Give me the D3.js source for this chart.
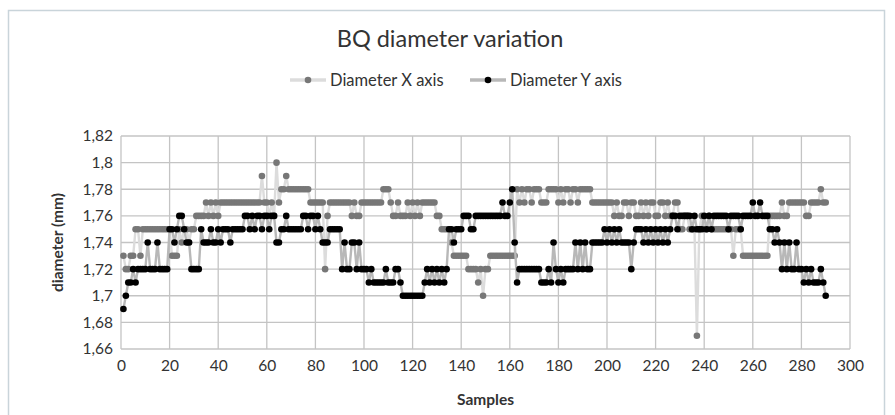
<!DOCTYPE html>
<html>
<head>
<meta charset="utf-8">
<script src="https://cdn.jsdelivr.net/npm/d3@7"></script>
<style>
  body { margin: 0; background: #fff; }
  svg { display: block; }
</style>
</head>
<body>
<div id="chart"></div>
<script>
// samples 1..290
const diameterX = [
  1.73,1.72,1.72,1.73,1.73,1.75,1.75,1.73,1.75,1.75,
  1.75,1.75,1.75,1.75,1.75,1.75,1.75,1.75,1.75,1.75,
  1.73,1.73,1.73,1.75,1.74,1.75,1.75,1.74,1.75,1.75,
  1.76,1.76,1.76,1.76,1.77,1.76,1.77,1.76,1.77,1.76,
  1.77,1.77,1.77,1.77,1.77,1.77,1.77,1.77,1.77,1.77,
  1.77,1.77,1.77,1.77,1.77,1.77,1.77,1.79,1.77,1.77,
  1.76,1.77,1.76,1.80,1.77,1.78,1.78,1.79,1.78,1.78,
  1.78,1.78,1.78,1.78,1.78,1.78,1.78,1.77,1.77,1.77,
  1.77,1.77,1.77,1.72,1.76,1.77,1.77,1.77,1.77,1.77,
  1.77,1.77,1.77,1.77,1.76,1.77,1.76,1.76,1.77,1.77,
  1.77,1.77,1.77,1.77,1.77,1.77,1.77,1.78,1.78,1.78,
  1.77,1.76,1.76,1.77,1.76,1.76,1.76,1.77,1.76,1.77,
  1.76,1.77,1.76,1.77,1.77,1.77,1.77,1.77,1.77,1.76,
  1.76,1.75,1.75,1.75,1.75,1.74,1.73,1.73,1.73,1.73,
  1.73,1.73,1.72,1.72,1.72,1.72,1.71,1.72,1.70,1.72,
  1.72,1.73,1.73,1.73,1.73,1.73,1.73,1.73,1.73,1.73,
  1.73,1.73,1.78,1.77,1.78,1.77,1.78,1.78,1.77,1.78,
  1.78,1.78,1.77,1.77,1.77,1.78,1.78,1.78,1.78,1.77,
  1.78,1.77,1.78,1.78,1.77,1.78,1.78,1.77,1.78,1.78,
  1.78,1.78,1.78,1.77,1.77,1.77,1.77,1.77,1.77,1.77,
  1.77,1.77,1.76,1.77,1.76,1.76,1.77,1.77,1.76,1.77,
  1.77,1.76,1.76,1.77,1.76,1.77,1.76,1.77,1.77,1.76,
  1.76,1.77,1.77,1.76,1.77,1.76,1.76,1.77,1.77,1.75,
  1.75,1.76,1.76,1.75,1.75,1.75,1.67,1.75,1.76,1.75,
  1.75,1.76,1.75,1.75,1.75,1.75,1.75,1.75,1.75,1.75,
  1.75,1.73,1.75,1.75,1.75,1.73,1.73,1.73,1.73,1.73,
  1.73,1.73,1.73,1.73,1.73,1.73,1.76,1.76,1.76,1.76,
  1.76,1.77,1.76,1.76,1.77,1.77,1.77,1.77,1.77,1.77,
  1.77,1.76,1.76,1.77,1.77,1.77,1.77,1.78,1.77,1.77
];

const diameterY = [
  1.69,1.70,1.71,1.71,1.72,1.71,1.72,1.72,1.72,1.72,
  1.74,1.72,1.72,1.72,1.74,1.72,1.72,1.72,1.72,1.75,
  1.75,1.74,1.75,1.76,1.76,1.75,1.74,1.74,1.72,1.72,
  1.72,1.72,1.75,1.74,1.74,1.74,1.75,1.74,1.74,1.75,
  1.74,1.75,1.75,1.75,1.74,1.75,1.75,1.75,1.75,1.75,
  1.76,1.76,1.75,1.76,1.75,1.76,1.76,1.75,1.76,1.76,
  1.75,1.76,1.76,1.74,1.74,1.75,1.75,1.76,1.75,1.75,
  1.75,1.75,1.75,1.75,1.76,1.76,1.75,1.76,1.76,1.75,
  1.76,1.75,1.74,1.74,1.74,1.75,1.75,1.75,1.75,1.75,
  1.72,1.74,1.72,1.72,1.74,1.74,1.72,1.74,1.72,1.72,
  1.72,1.71,1.72,1.71,1.71,1.71,1.71,1.71,1.72,1.71,
  1.71,1.71,1.72,1.72,1.71,1.70,1.70,1.70,1.70,1.70,
  1.70,1.70,1.70,1.70,1.71,1.72,1.71,1.72,1.71,1.72,
  1.71,1.72,1.71,1.72,1.75,1.75,1.74,1.75,1.75,1.75,
  1.76,1.76,1.76,1.75,1.75,1.76,1.76,1.76,1.76,1.76,
  1.76,1.76,1.76,1.76,1.76,1.76,1.77,1.76,1.76,1.77,
  1.78,1.74,1.71,1.72,1.72,1.72,1.72,1.72,1.72,1.72,
  1.72,1.72,1.71,1.71,1.71,1.72,1.71,1.74,1.72,1.71,
  1.72,1.71,1.72,1.72,1.72,1.72,1.74,1.72,1.74,1.72,
  1.74,1.72,1.72,1.74,1.74,1.74,1.74,1.74,1.75,1.74,
  1.75,1.74,1.75,1.74,1.75,1.74,1.74,1.74,1.74,1.72,
  1.74,1.75,1.75,1.75,1.74,1.75,1.74,1.75,1.74,1.75,
  1.74,1.75,1.74,1.75,1.74,1.75,1.76,1.76,1.75,1.76,
  1.76,1.76,1.76,1.76,1.75,1.76,1.75,1.75,1.75,1.76,
  1.75,1.76,1.75,1.76,1.76,1.76,1.76,1.76,1.76,1.75,
  1.76,1.76,1.76,1.76,1.75,1.76,1.76,1.76,1.76,1.77,
  1.76,1.76,1.77,1.76,1.76,1.76,1.75,1.75,1.74,1.75,
  1.74,1.72,1.74,1.72,1.74,1.72,1.72,1.74,1.72,1.72,
  1.71,1.72,1.71,1.72,1.71,1.71,1.71,1.72,1.71,1.70
];

const xTicks = [0, 20, 40, 60, 80, 100, 120, 140, 160, 180, 200, 220, 240, 260, 280, 300];
const yTicks = [1.66, 1.68, 1.70, 1.72, 1.74, 1.76, 1.78, 1.80, 1.82];

const series = [
  {label: "Diameter X axis", values: diameterX, line: "#dcdcdc", marker: "#777777"},
  {label: "Diameter Y axis", values: diameterY, line: "#b8b8b8", marker: "#000000"}
];

const W = 895, H = 415;
const margin = {top: 136, right: 45, bottom: 66, left: 121};
const width = W - margin.left - margin.right;
const height = H - margin.top - margin.bottom;
const font = "Lato, 'Open Sans', sans-serif";
const textColor = "#333";

const svg = d3.select("#chart").append("svg")
  .attr("width", W)
  .attr("height", H);

// chart border
svg.append("rect")
  .attr("x", 8.5).attr("y", 10.5)
  .attr("width", 876).attr("height", 420)
  .attr("fill", "#fff")
  .attr("stroke", "#c9d4da")
  .attr("stroke-width", 1.5);

const g = svg.append("g")
  .attr("transform", "translate(" + margin.left + "," + margin.top + ")");

const x = d3.scaleLinear().domain([0, 300]).range([0, width]);
const y = d3.scaleLinear().domain([1.66, 1.82]).range([height, 0]);

const fmt = v => String(+v.toFixed(2)).replace(".", ",");

// gridlines
g.append("g")
  .selectAll("line")
  .data(yTicks)
  .join("line")
  .attr("x1", 0).attr("x2", width)
  .attr("y1", d => y(d)).attr("y2", d => y(d))
  .attr("stroke", "#c4c4c4").attr("stroke-width", 1.3);

g.append("g")
  .selectAll("line")
  .data(xTicks)
  .join("line")
  .attr("x1", d => x(d)).attr("x2", d => x(d))
  .attr("y1", 0).attr("y2", height)
  .attr("stroke", "#c4c4c4").attr("stroke-width", 1.3);

// axes (labels only)
const yAxis = g.append("g")
  .call(d3.axisLeft(y).tickValues(yTicks).tickFormat(fmt).tickSize(0).tickPadding(8));
const xAxis = g.append("g")
  .attr("transform", "translate(0," + height + ")")
  .call(d3.axisBottom(x).tickValues(xTicks).tickSize(0).tickPadding(11));

[yAxis, xAxis].forEach(a => {
  a.select(".domain").remove();
  a.selectAll("text")
    .attr("font-family", font)
    .attr("font-size", 15.5)
    .attr("fill", textColor);
});

// series
const line = d3.line()
  .x((d, i) => x(i + 1))
  .y(d => y(d));

series.forEach(s => {
  const sg = g.append("g");
  sg.append("path")
    .datum(s.values)
    .attr("fill", "none")
    .attr("stroke", s.line)
    .attr("stroke-width", 2.4)
    .attr("d", line);
  sg.selectAll("circle")
    .data(s.values)
    .join("circle")
    .attr("cx", (d, i) => x(i + 1))
    .attr("cy", d => y(d))
    .attr("r", 3.3)
    .attr("fill", s.marker);
});

// title
svg.append("text")
  .attr("x", 450).attr("y", 47)
  .attr("text-anchor", "middle")
  .attr("font-family", font)
  .attr("font-size", 23.5)
  .attr("fill", textColor)
  .text("BQ diameter variation");

// legend
const legend = svg.append("g")
  .selectAll("g")
  .data(series)
  .join("g")
  .attr("transform", (d, i) => "translate(" + (290 + i * 180) + ",80)");

legend.append("line")
  .attr("x1", 0).attr("x2", 36)
  .attr("stroke", d => d.line)
  .attr("stroke-width", 3.5);
legend.append("circle")
  .attr("cx", 18).attr("r", 3.3)
  .attr("fill", d => d.marker);
legend.append("text")
  .attr("x", 40).attr("dy", "0.35em")
  .attr("font-family", font)
  .attr("font-size", 16.5)
  .attr("fill", textColor)
  .text(d => d.label);

// axis titles
svg.append("text")
  .attr("transform", "translate(63," + (margin.top + height / 2) + ") rotate(-90)")
  .attr("text-anchor", "middle")
  .attr("font-family", font)
  .attr("font-size", 15.5)
  .attr("font-weight", "bold")
  .attr("fill", textColor)
  .text("diameter (mm)");

svg.append("text")
  .attr("x", margin.left + width / 2).attr("y", 405)
  .attr("text-anchor", "middle")
  .attr("font-family", font)
  .attr("font-size", 15.5)
  .attr("font-weight", "bold")
  .attr("fill", textColor)
  .text("Samples");
</script>
</body>
</html>
